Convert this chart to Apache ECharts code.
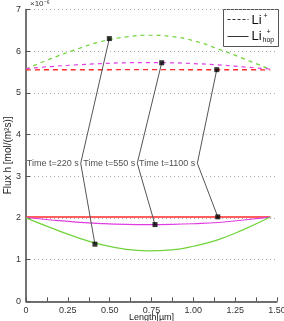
<!DOCTYPE html>
<html><head><meta charset="utf-8">
<script src="https://cdn.jsdelivr.net/npm/echarts@6/dist/echarts.min.js"></script>
<style>html,body{margin:0;padding:0;background:#fff}#c{width:284px;height:321px}</style>
</head><body><div id="c"></div>
<script>
// values in units of 1e-6 mol/(m^2 s)
const xTicks = [0, 0.25, 0.5, 0.75, 1.0, 1.25, 1.5];
const xTickLabels = ["0", "0.25", "0.50", "0.75", "1.00", "1.25", "1.50"];
const yTickLabels = ["0", "1", "2", "3", "4", "5", "6", "7"];

const greenDashed = [[0,5.57],[0.15,5.82],[0.3,6.04],[0.45,6.23],[0.6,6.34],[0.73,6.38],[0.87,6.35],[1.0,6.25],[1.15,6.05],[1.3,5.82],[1.46,5.56]];
const magentaDashed = [[0,5.58],[0.15,5.63],[0.3,5.67],[0.45,5.70],[0.6,5.72],[0.73,5.725],[0.87,5.72],[1.0,5.70],[1.15,5.67],[1.3,5.62],[1.46,5.57]];
const redDashed = [[0,5.55],[0.73,5.555],[1.46,5.55]];
const redSolid = [[0,2.02],[0.73,2.025],[1.46,2.02]];
const magentaSolid = [[0,2.01],[0.15,1.95],[0.3,1.90],[0.45,1.865],[0.6,1.845],[0.73,1.84],[0.87,1.845],[1.0,1.86],[1.15,1.89],[1.3,1.95],[1.46,2.02]];
const greenSolid = [[0,2.0],[0.15,1.76],[0.3,1.54],[0.45,1.36],[0.6,1.245],[0.73,1.21],[0.87,1.235],[1.0,1.32],[1.15,1.48],[1.3,1.72],[1.46,2.02]];

const timeLabels = ["Time t=220 s", "Time t=550 s", "Time t=1100 s"];
const upperMarkers = [[0.498,6.30],[0.811,5.72],[1.14,5.555]];
const vertices = [[0.327,3.31],[0.665,3.31],[1.024,3.31]];
const lowerMarkers = [[0.412,1.37],[0.771,1.84],[1.146,2.025]];

const FONT = '"Liberation Sans", Arial, sans-serif';
const GREEN = '#6fd33a', MAGENTA = '#e03ce0', RED = '#ff2a2a';

const series = [
  {type:'line', data:greenDashed, smooth:true, symbol:'none', lineStyle:{color:GREEN, width:1.2, type:[4,4]}},
  {type:'line', data:magentaDashed, smooth:true, symbol:'none', lineStyle:{color:MAGENTA, width:1.2, type:[4,4]}},
  {type:'line', data:redDashed, smooth:true, symbol:'none', lineStyle:{color:RED, width:1.4, type:[5,4]}},
  {type:'line', data:redSolid, smooth:true, symbol:'none', lineStyle:{color:RED, width:1.4}},
  {type:'line', data:magentaSolid, smooth:true, symbol:'none', lineStyle:{color:MAGENTA, width:1.2}},
  {type:'line', data:greenSolid, smooth:true, symbol:'none', lineStyle:{color:GREEN, width:1.2}}
];
for (let i = 0; i < timeLabels.length; i++) {
  series.push({type:'line', data:[upperMarkers[i], vertices[i], lowerMarkers[i]], symbol:'none',
    lineStyle:{color:'#555', width:1}, z:5});
}
series.push({type:'scatter', data:upperMarkers.concat(lowerMarkers), symbol:'rect', symbolSize:5,
  itemStyle:{color:'#000'}, z:6});
series.push({type:'scatter', data:vertices.map((v,i)=>({value:v, name:timeLabels[i]})), symbolSize:0,
  itemStyle:{color:'transparent'},
  label:{show:true, position:'left', distance:2, formatter:p=>p.name, fontSize:9, color:'#222', fontFamily:FONT}, z:7});

const chart = echarts.init(document.getElementById('c'), null, {renderer:'canvas'});
chart.setOption({
  animation:false,
  backgroundColor:'#fff',
  grid:{left:26, right:7, top:9.4, bottom:19.7, containLabel:false, outerBoundsMode:'none'},
  xAxis:{type:'value', min:0, max:1.5, interval:0.25,
    name:'Length[µm]', nameLocation:'middle', nameGap:12, nameMoveOverlap:false,
    nameTextStyle:{fontSize:9, color:'#222', fontFamily:FONT, verticalAlign:'top'},
    axisLine:{show:true, onZero:false, lineStyle:{color:'#444', width:1.5}},
    axisTick:{show:true, inside:true, length:4, lineStyle:{color:'#555'}},
    minorTick:{show:true, splitNumber:2, length:4, lineStyle:{color:'#555'}},
    splitLine:{show:false},
    axisLabel:{margin:5, fontSize:9, color:'#333', fontFamily:FONT,
      formatter:v=>{const i = xTicks.findIndex(t=>Math.abs(t-v)<1e-9); return i>=0 ? xTickLabels[i] : '';}}
  },
  yAxis:{type:'value', min:0, max:7, interval:1,
    name:'Flux h [mol/(m²s)]', nameLocation:'middle', nameGap:18, nameMoveOverlap:false,
    nameTextStyle:{fontSize:10, color:'#222', fontFamily:FONT, verticalAlign:'middle'},
    axisLine:{show:true, onZero:false, lineStyle:{color:'#444', width:1.5}},
    axisTick:{show:true, inside:true, length:4, lineStyle:{color:'#555'}},
    splitLine:{show:true, lineStyle:{color:'#aaa', type:[1,3], width:1}},
    axisLabel:{margin:5, fontSize:9, color:'#333', fontFamily:FONT,
      formatter:v=>yTickLabels[Math.round(v)] || ''}
  },
  graphic:[
    {type:'text', left:30, top:0, style:{text:'×10⁻⁶', fontSize:8, fill:'#333', fontFamily:FONT}},
    {type:'group', left:223, top:9, children:[
      {type:'rect', shape:{x:0, y:0, width:55, height:37}, style:{fill:'#fff', stroke:'#555', lineWidth:1}},
      {type:'line', shape:{x1:4, y1:10, x2:25, y2:10}, style:{stroke:'#333', lineWidth:1, lineDash:[3,2]}},
      {type:'text', x:28, y:4, style:{text:'Li', fontSize:13, fill:'#111', fontFamily:FONT}},
      {type:'text', x:40, y:3, style:{text:'+', fontSize:7, fill:'#111', fontFamily:FONT}},
      {type:'line', shape:{x1:4, y1:27, x2:25, y2:27}, style:{stroke:'#333', lineWidth:1}},
      {type:'text', x:28, y:20, style:{text:'Li', fontSize:13, fill:'#111', fontFamily:FONT}},
      {type:'text', x:43, y:19, style:{text:'+', fontSize:7, fill:'#111', fontFamily:FONT}},
      {type:'text', x:39, y:27, style:{text:'hop', fontSize:7, fill:'#111', fontFamily:FONT}}
    ]}
  ],
  series:series
});
</script></body></html>
